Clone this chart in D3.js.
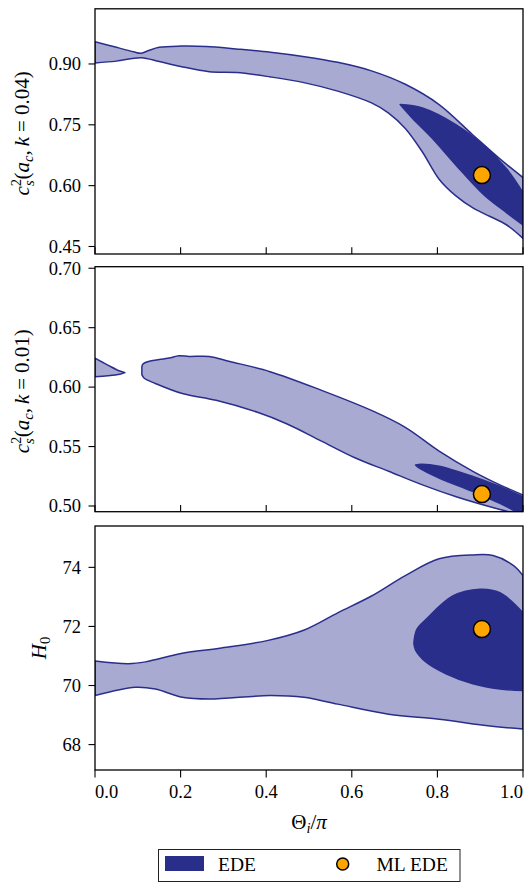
<!DOCTYPE html>
<html><head><meta charset="utf-8">
<script src="https://cdn.jsdelivr.net/npm/d3@7"></script>
<style>html,body{margin:0;padding:0;background:#fff;}svg{display:block;}</style>
</head><body>
<svg id="chart" width="529" height="886"></svg>
<script>
// ---------- data ----------
const thetaTicks = [0, 0.2, 0.4, 0.6, 0.8, 1.0];
const cs04Ticks = [0.45, 0.60, 0.75, 0.90];
const cs01Ticks = [0.50, 0.55, 0.60, 0.65, 0.70];
const h0Ticks = [68, 70, 72, 74];

const cs04Domain = [0.4315, 1.036];
const cs01Domain = [0.4952, 0.7013];
const h0Domain = [67.14, 75.40];

// contour boundaries [theta/pi, value]
const top95Upper = [[0,0.955],[0.05,0.941],[0.09,0.930],[0.108,0.9265],[0.125,0.933],[0.15,0.941],[0.2,0.944],[0.26,0.943],[0.33,0.937],[0.41,0.929],[0.49,0.918],[0.567,0.904],[0.646,0.883],[0.725,0.850],[0.804,0.800],[0.883,0.725],[0.946,0.666],[1.0,0.620]];
const top95Lower = [[0,0.9025],[0.05,0.907],[0.108,0.9155],[0.15,0.906],[0.2,0.894],[0.267,0.881],[0.331,0.879],[0.41,0.868],[0.488,0.854],[0.567,0.833],[0.646,0.804],[0.686,0.779],[0.725,0.741],[0.765,0.683],[0.804,0.616],[0.844,0.574],[0.883,0.545],[0.923,0.524],[0.962,0.503],[1.0,0.470]];
const top68Upper = [[0.713,0.800],[0.765,0.7915],[0.844,0.750],[0.907,0.700],[0.962,0.641],[1.0,0.583]];
const top68Lower = [[0.713,0.800],[0.741,0.767],[0.788,0.717],[0.844,0.650],[0.907,0.579],[0.962,0.533],[1.0,0.503]];

const mid95BlobUpper = [[0,0.6243],[0.03,0.6185],[0.058,0.6135],[0.07,0.6122]];
const mid95BlobLower = [[0,0.6088],[0.03,0.6095],[0.058,0.6108],[0.07,0.6122]];
const mid95Upper = [[0.1095,0.6170],[0.112,0.6195],[0.125,0.6216],[0.173,0.6245],[0.196,0.6264],[0.220,0.6258],[0.267,0.6258],[0.315,0.6216],[0.409,0.613],[0.528,0.5975],[0.646,0.5804],[0.725,0.5662],[0.804,0.5462],[0.883,0.5292],[0.946,0.5178],[1.0,0.5093]];
const mid95Lower = [[0.1095,0.6105],[0.115,0.6075],[0.141,0.6031],[0.204,0.5946],[0.283,0.5889],[0.378,0.5790],[0.449,0.5690],[0.528,0.5548],[0.607,0.5406],[0.686,0.5292],[0.765,0.5178],[0.844,0.5078],[0.923,0.4993],[0.962,0.4955],[1.0,0.491]];
const mid68Upper = [[0.749,0.5345],[0.762,0.5352],[0.804,0.5335],[0.883,0.5249],[0.946,0.5164],[1.0,0.5078]];
const mid68Lower = [[0.749,0.5345],[0.757,0.532],[0.804,0.5235],[0.883,0.5121],[0.946,0.5022],[1.0,0.492]];

const bot95Upper = [[0,70.83],[0.078,70.74],[0.118,70.80],[0.204,71.09],[0.291,71.26],[0.402,71.52],[0.489,71.88],[0.567,72.46],[0.646,73.03],[0.725,73.72],[0.804,74.29],[0.883,74.42],[0.930,74.40],[0.978,74.06],[1.0,73.72]];
const bot95Lower = [[0,69.66],[0.094,69.94],[0.141,69.88],[0.204,69.60],[0.267,69.54],[0.409,69.66],[0.488,69.60],[0.567,69.37],[0.686,69.03],[0.804,68.86],[0.923,68.63],[1.0,68.53]];
const bot68Upper = [[0.745,71.43],[0.752,71.9],[0.773,72.23],[0.836,73.03],[0.899,73.26],[0.946,73.14],[1.0,72.46]];
const bot68Lower = [[0.745,71.43],[0.749,71.20],[0.773,70.80],[0.820,70.40],[0.883,70.06],[0.946,69.88],[1.0,69.83]];

const mlTheta = [0.904, 0.904, 0.904];
const mlValues = [0.626, 0.510, 71.91];

const legendLabels = ["EDE", "ML EDE"];

// ---------- style ----------
const DARK = "#2a2e8b";
const LIGHT = "#a8aad2";
const ORANGE = "#ffa500";
const FONT = "'Liberation Serif', 'Times New Roman', serif";

const svg = d3.select("#chart");
const X0 = 95, X1 = 523;
const x = d3.scaleLinear().domain([0, 1]).range([X0, X1]);

const panels = [
  {top: 8.8, bottom: 254, domain: cs04Domain, ticks: cs04Ticks, fmt: d3.format(".2f"),
   regions: [[top95Upper, top95Lower, LIGHT], [top68Upper, top68Lower, DARK]], inward: true, label: "cs", k: "0.04", ml: 0},
  {top: 266.7, bottom: 511.7, domain: cs01Domain, ticks: cs01Ticks, fmt: d3.format(".2f"),
   regions: [[mid95BlobUpper, mid95BlobLower, LIGHT], [mid95Upper, mid95Lower, LIGHT], [mid68Upper, mid68Lower, DARK]], inward: true, label: "cs", k: "0.01", ml: 1},
  {top: 526, bottom: 770, domain: h0Domain, ticks: h0Ticks, fmt: d3.format("d"),
   regions: [[bot95Upper, bot95Lower, LIGHT], [bot68Upper, bot68Lower, DARK]], inward: false, label: "H0", ml: 2}
];

function addT(text, str, opts) {
  const t = text.append("tspan").text(str);
  if (opts.italic) t.attr("font-style", "italic");
  if (opts.size) t.attr("font-size", opts.size);
  if (opts.dx !== undefined) t.attr("dx", opts.dx);
  if (opts.dy !== undefined) t.attr("dy", opts.dy);
  return t;
}

panels.forEach((p, i) => {
  const y = d3.scaleLinear().domain(p.domain).range([p.bottom, p.top]);
  const g = svg.append("g");
  const clipId = "clip" + i;
  svg.append("defs").append("clipPath").attr("id", clipId)
    .append("rect").attr("x", X0).attr("y", p.top).attr("width", X1 - X0).attr("height", p.bottom - p.top);

  const line = d3.line().x(d => x(d[0])).y(d => y(d[1])).curve(d3.curveCatmullRom.alpha(0.5));
  const cg = g.append("g").attr("clip-path", `url(#${clipId})`);
  p.regions.forEach(([up, lo, col]) => {
    const a = line(up);
    const b = line(lo.slice().reverse()).replace(/^M/, "L");
    cg.append("path").attr("d", a + b + "Z")
      .attr("fill", col).attr("stroke", DARK).attr("stroke-width", 1.5).attr("stroke-linejoin", "round");
  });

  // ML point
  cg.append("circle").attr("cx", x(mlTheta[p.ml])).attr("cy", y(mlValues[p.ml]))
    .attr("r", 8.5).attr("fill", ORANGE).attr("stroke", "#000").attr("stroke-width", 1.5);

  // y ticks
  p.ticks.forEach(t => {
    g.append("line").attr("x1", X0 - 6.5).attr("x2", X0).attr("y1", y(t)).attr("y2", y(t))
      .attr("stroke", "#000").attr("stroke-width", 1.1);
    g.append("text").attr("x", X0 - 14).attr("y", y(t)).attr("dy", "0.34em")
      .attr("text-anchor", "end").attr("font-family", FONT).attr("font-size", 18.5).text(p.fmt(t));
  });

  // x ticks
  thetaTicks.forEach((t, j) => {
    if (p.inward) {
      g.append("line").attr("x1", x(t)).attr("x2", x(t)).attr("y1", p.bottom - 6.7).attr("y2", p.bottom)
        .attr("stroke", "#000").attr("stroke-width", 1.1);
    } else {
      g.append("line").attr("x1", x(t)).attr("x2", x(t)).attr("y1", p.bottom).attr("y2", p.bottom + 7.5)
        .attr("stroke", "#000").attr("stroke-width", 1.1);
      const anchor = j === 0 ? "start" : (j === thetaTicks.length - 1 ? "end" : "middle");
      g.append("text").attr("x", x(t)).attr("y", 798).attr("text-anchor", anchor)
        .attr("font-family", FONT).attr("font-size", 18.5).text(d3.format(".1f")(t));
    }
  });

  // frame
  g.append("rect").attr("x", X0).attr("y", p.top).attr("width", X1 - X0).attr("height", p.bottom - p.top)
    .attr("fill", "none").attr("stroke", "#000").attr("stroke-width", 1.3);

  // y label
  const cy = (p.top + p.bottom) / 2;
  if (p.label === "cs") {
    const lt = svg.append("text").attr("transform", `translate(29,${cy + 2}) rotate(-90)`)
      .attr("text-anchor", "middle").attr("font-family", FONT).attr("font-size", 21);
    addT(lt, "c", {italic: true});
    addT(lt, "2", {size: 14.5, dy: -8});
    addT(lt, "s", {italic: true, size: 14.5, dx: -7.2, dy: 13});
    addT(lt, "(", {dy: -5, dx: 1});
    addT(lt, "a", {italic: true});
    addT(lt, "c", {italic: true, size: 14.5, dy: 4});
    addT(lt, ",", {dy: -4});
    addT(lt, "k", {italic: true, dx: 4});
    addT(lt, "=", {dx: 5});
    addT(lt, p.k + ")", {dx: 5});
  } else {
    const lt = svg.append("text").attr("transform", `translate(45.5,${cy}) rotate(-90)`)
      .attr("text-anchor", "middle").attr("font-family", FONT).attr("font-size", 21);
    addT(lt, "H", {italic: true});
    addT(lt, "0", {size: 14.5, dy: 4});
  }
});

// x label
const xl = svg.append("text").attr("x", (X0 + X1) / 2).attr("y", 829).attr("text-anchor", "middle")
  .attr("font-family", FONT).attr("font-size", 21);
addT(xl, "Θ", {});
addT(xl, "i", {italic: true, size: 14.5, dy: 4});
addT(xl, "/", {dy: -4});
addT(xl, "π", {italic: true});

// legend
const lg = svg.append("g");
lg.append("rect").attr("x", 158.5).attr("y", 849.5).attr("width", 301.5).attr("height", 32)
  .attr("fill", "#fff").attr("stroke", "#222").attr("stroke-width", 1);
lg.append("rect").attr("x", 165).attr("y", 856).attr("width", 39).attr("height", 15).attr("fill", DARK);
lg.append("text").attr("x", 218).attr("y", 870.5).attr("font-family", FONT).attr("font-size", 19.5).text(legendLabels[0]);
lg.append("circle").attr("cx", 342.7).attr("cy", 864).attr("r", 6).attr("fill", ORANGE).attr("stroke", "#000").attr("stroke-width", 1.5);
lg.append("text").attr("x", 376.5).attr("y", 870.5).attr("font-family", FONT).attr("font-size", 19.5).text(legendLabels[1]);
</script>
</body></html>
